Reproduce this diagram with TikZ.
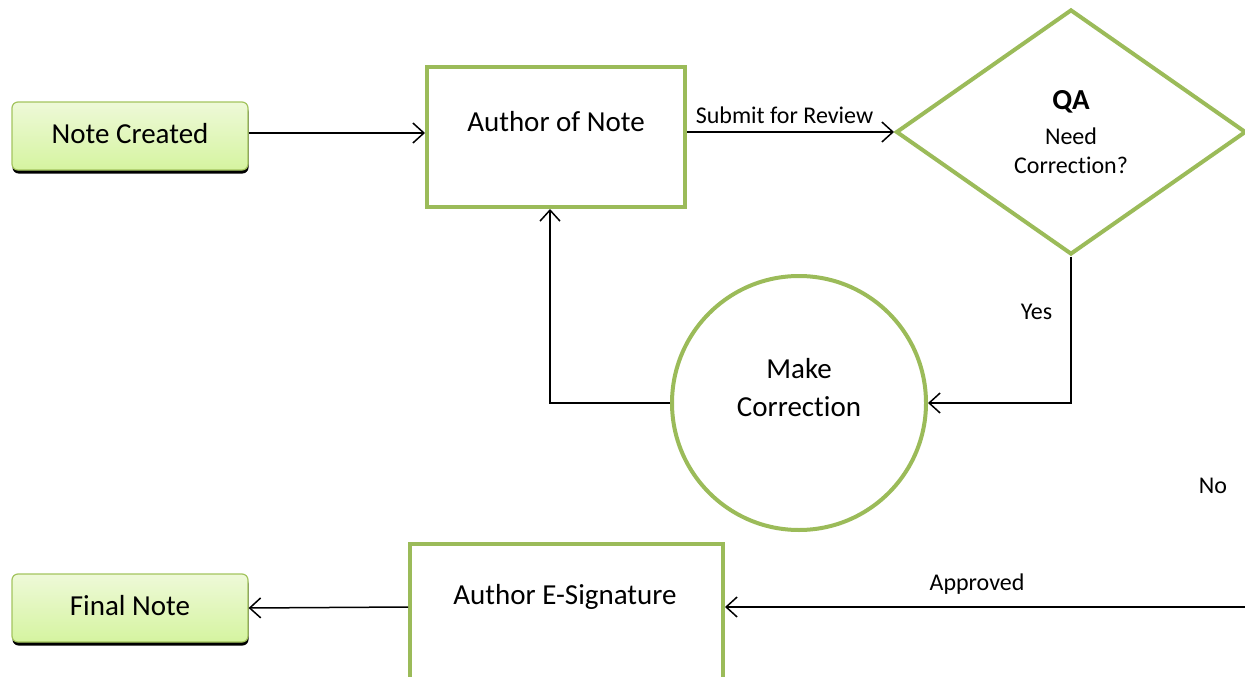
\documentclass[tikz,border=0pt]{standalone}
\usepackage{fontspec}
\setmainfont{Carlito}[Ligatures={NoCommon,NoRequired,NoContextual}]
\usetikzlibrary{shapes.geometric,arrows.meta,shadows}
\definecolor{qgreen}{HTML}{9BBB59}
\definecolor{boxtop}{HTML}{EEF9D8}
\definecolor{boxbot}{HTML}{D5F4A0}
\definecolor{boxline}{HTML}{A3C45E}
\tikzset{
  bigtxt/.style={font=\fontsize{29}{35}\selectfont},
  smalltxt/.style={font=\fontsize{24}{29}\selectfont},
  termbox/.style={rectangle, rounded corners=6pt, draw=boxline, line width=1.2pt,
    top color=boxtop, bottom color=boxbot, minimum width=236pt, minimum height=68pt,
    general shadow={fill=black, shadow yshift=-3.5pt, shadow xshift=0.5pt}, bigtxt,
    text depth=6pt},
  procbox/.style={rectangle, draw=qgreen, line width=4pt, fill=white},
  decbox/.style={diamond, draw=qgreen, line width=4pt, fill=white, inner sep=0pt,
    minimum width=350pt, minimum height=245pt, smalltxt, align=center},
  corrcirc/.style={circle, draw=qgreen, line width=4pt, fill=white, minimum size=254pt, inner sep=0pt},
  conn/.style={line width=1.5pt, -{Straight Barb[length=11pt,width=20pt]}},
  lbl/.style={smalltxt, inner sep=0pt}
}
\begin{document}
\begin{tikzpicture}[x=1pt,y=-1pt]
\useasboundingbox (0,0) rectangle (1245,677);
% nodes
\node[termbox] (created) at (130,136) {Note Created};
\node[termbox] (final) at (130,608) {Final Note};
\node[procbox, minimum width=258pt, minimum height=140pt,
  label={[bigtxt, yshift=15pt]center:Author of Note}] (author) at (556,137) {};
\node[decbox] (qa) at (1071,132) {{\bfseries\fontsize{29}{35}\selectfont QA}\\[6pt]Need\\Correction?};
\node[corrcirc, label={[bigtxt, align=center, yshift=15pt]center:Make\\[3pt]Correction}] (corr) at (799,403) {};
\node[procbox, minimum width=313pt, minimum height=180pt, anchor=north west] (esig) at (408,542) {};
\node[bigtxt] (esigtxt) at (565,597) {Author E-Signature};
% helper coordinates
\coordinate (cstart) at ([yshift=3pt]created.east);
\coordinate (approvedin) at (1250,607);
\coordinate (loopx) at (550,0);
% connectors
\draw[conn] (cstart) -- (author.west |- cstart);
\draw[conn] (author.east |- qa.west) -- (qa.west)
  node[lbl, midway, above=8pt, xshift=-6pt] {Submit for Review};
\draw[conn] (qa.south) |- (corr.east) node[lbl, pos=0.19, left=18pt] {Yes};
\draw[conn] (corr.west) -| (author.south -| loopx);
\draw[conn] (approvedin) -- (esig.east |- approvedin)
  node[lbl, pos=0.52, above=12pt] {Approved};
\draw[conn] (esig.west |- approvedin) -- (final.east);
\node[lbl] (no) at (1213,486) {No};
\end{tikzpicture}
\end{document}
